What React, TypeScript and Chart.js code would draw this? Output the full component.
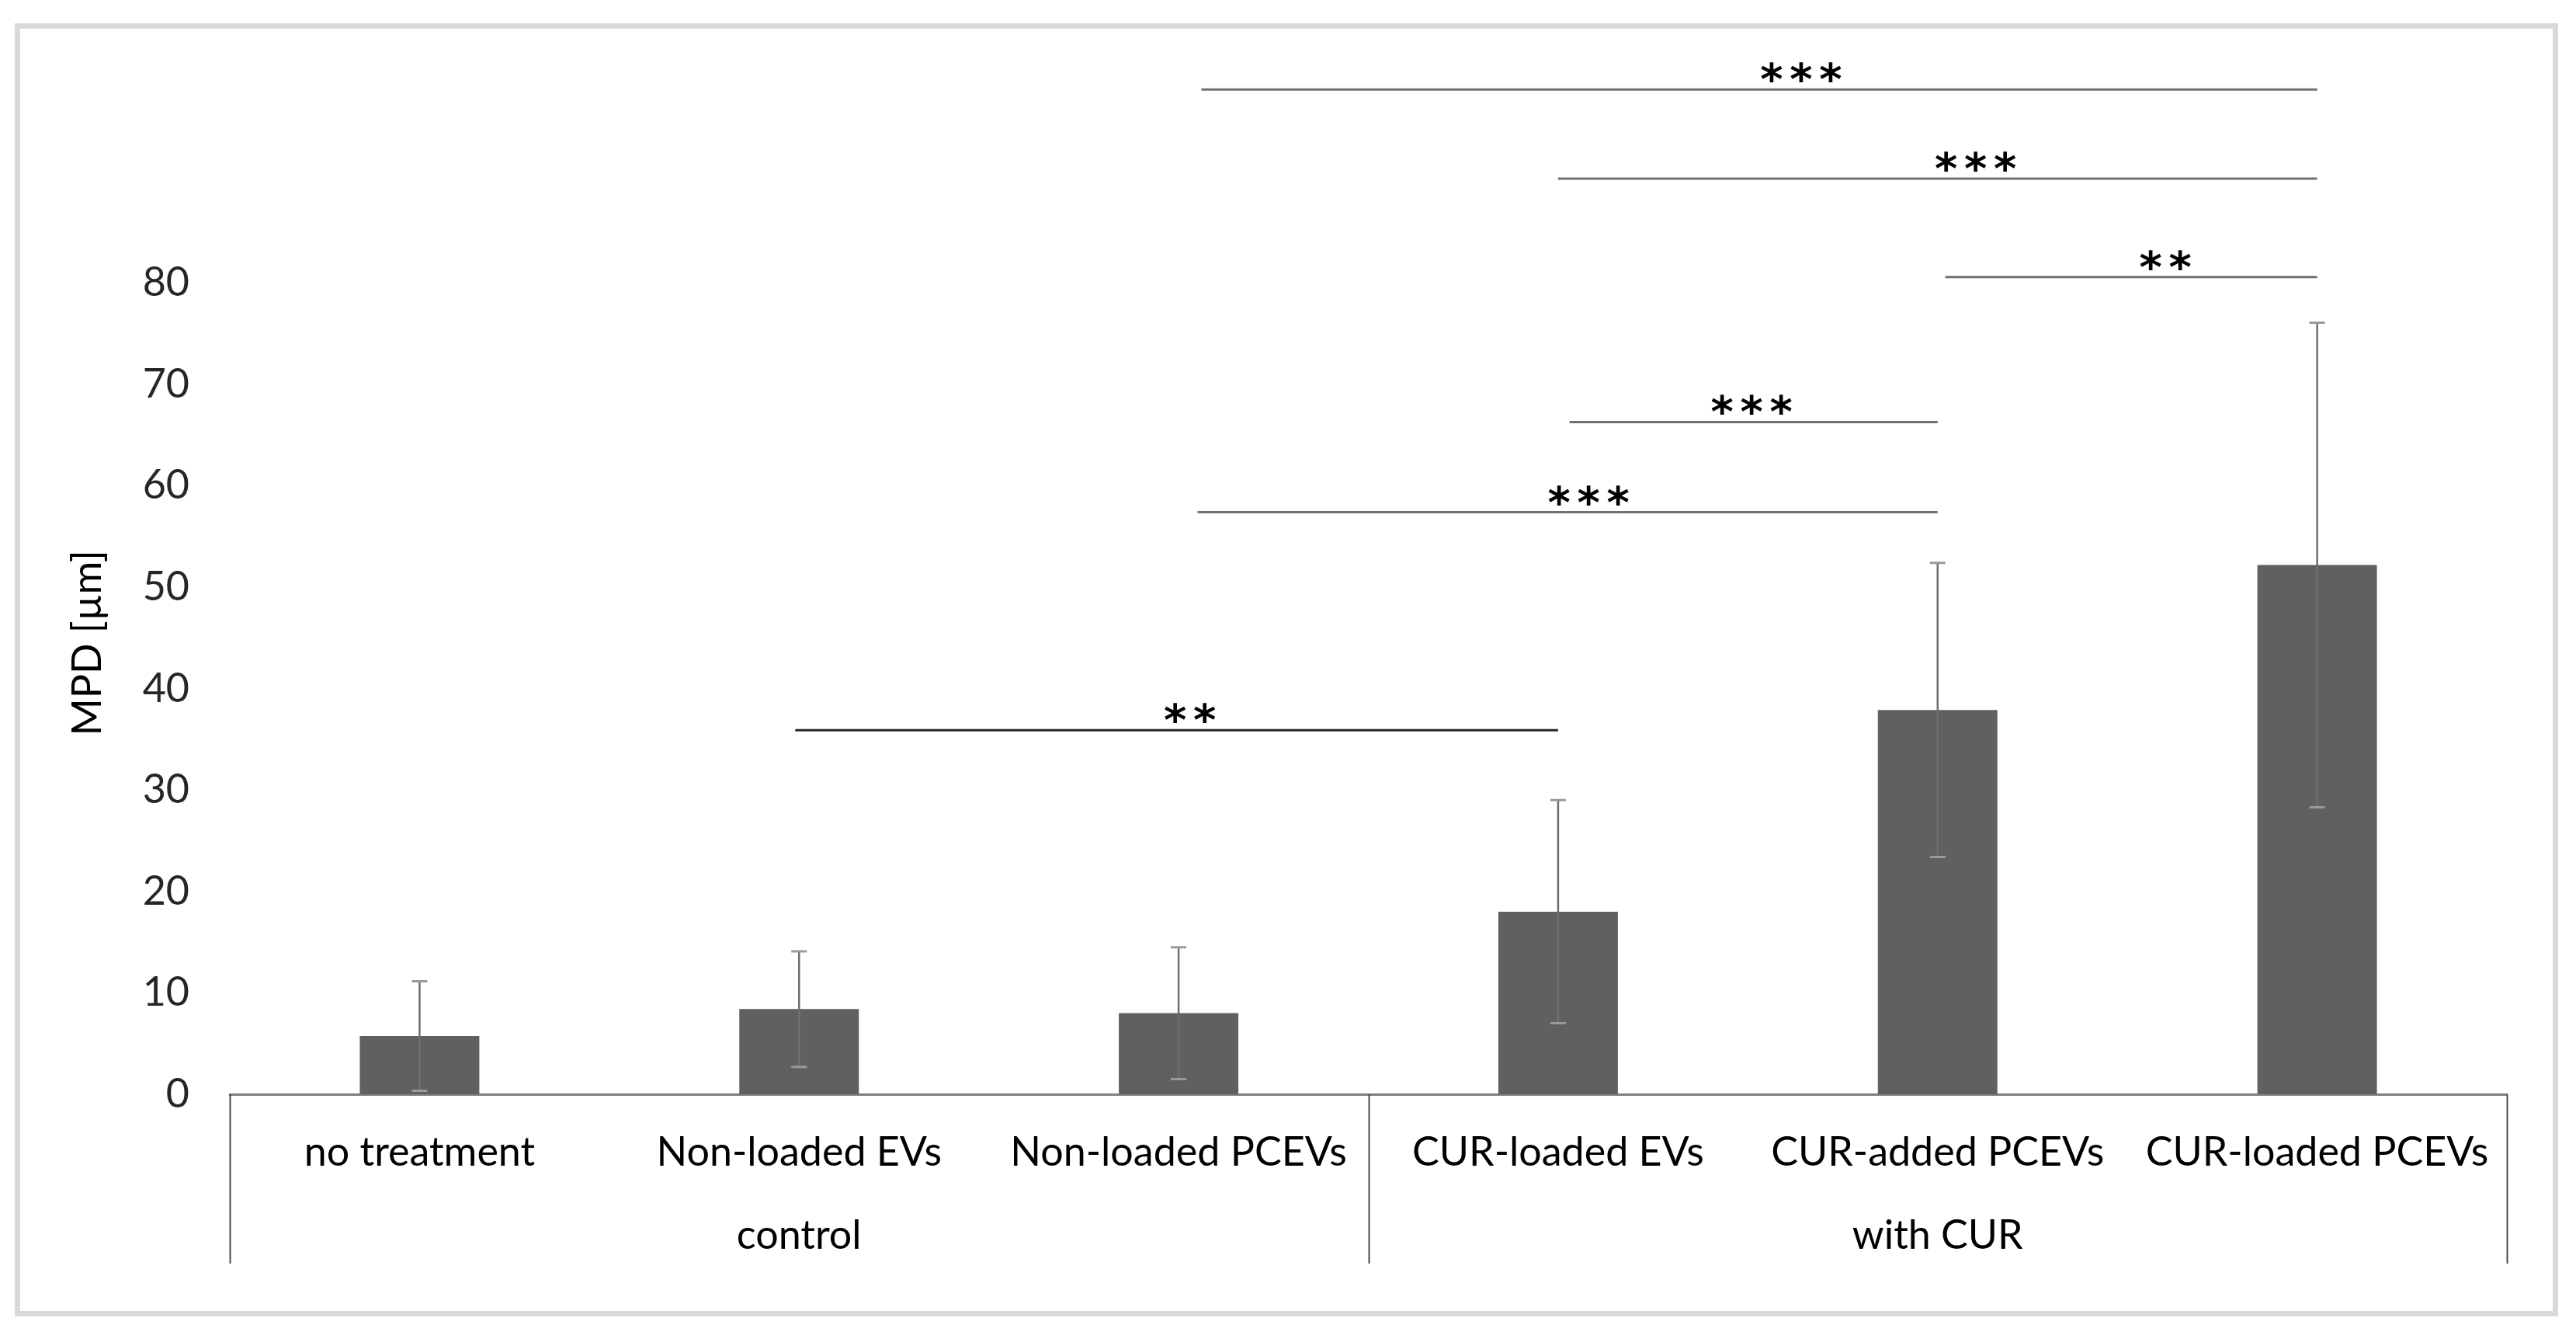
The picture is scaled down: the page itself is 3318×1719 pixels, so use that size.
import React, { useEffect, useRef } from 'react';
import { Chart, registerables } from 'chart.js';

Chart.register(...registerables);

// ---------- data ----------
const categories = ['no treatment', 'Non-loaded EVs', 'Non-loaded PCEVs', 'CUR-loaded EVs', 'CUR-added PCEVs', 'CUR-loaded PCEVs'];
const groups = ['control', 'with CUR'];
const groupSizes = [3, 3];
const means = [5.75, 8.4, 8.0, 18.0, 37.9, 52.2];
const sds = [5.4, 5.7, 6.5, 11.0, 14.5, 23.9];
const yTickStep = 10;
const yAxisMax = 89;
const yAxisTitle = 'MPD [µm]';

// significance brackets (category index positions and y values)
const bracketFrom = [2.06, 3.0, 4.02, 3.03, 2.05, 0.99];
const bracketTo = [5.0, 5.0, 5.0, 4.0, 4.0, 3.0];
const bracketY = [99.1, 90.3, 80.6, 66.3, 57.4, 35.9];
const bracketLabelX = [3.64, 4.1, 4.6, 3.51, 3.08, 2.03];
const bracketLabels = ['***', '***', '**', '***', '***', '**'];

// ---------- styles ----------
const W = 3318;
const H = 1719;
const FONT = 'Lato';
const FS = 52;
const BAR = '#606060';
const bracketColors = ['#707070', '#707070', '#707070', '#707070', '#707070', '#262626'];

const framePlugin = {
  id: 'frame',
  beforeDraw(chart: any) {
    const { ctx } = chart;
    ctx.save();
    ctx.fillStyle = '#ffffff';
    ctx.fillRect(0, 0, W, H);
    ctx.strokeStyle = '#d9d9d9';
    ctx.lineWidth = 7;
    ctx.strokeRect(22.5, 33.5, 3269, 1658);
    ctx.restore();
  },
};

const errorPlugin = {
  id: 'errbars',
  afterDatasetsDraw(chart: any) {
    const { ctx } = chart;
    const y = chart.scales.y;
    const meta = chart.getDatasetMeta(0);
    ctx.save();
    meta.data.forEach((bar: any, i: number) => {
      const top = y.getPixelForValue(means[i] + sds[i]);
      const bot = y.getPixelForValue(means[i] - sds[i]);
      ctx.strokeStyle = '#6e6e6e';
      ctx.lineWidth = 2.5;
      ctx.beginPath();
      ctx.moveTo(bar.x, top);
      ctx.lineTo(bar.x, bot);
      ctx.stroke();
      ctx.strokeStyle = '#9a9a9a';
      ctx.lineWidth = 3;
      ctx.beginPath();
      ctx.moveTo(bar.x - 10, top);
      ctx.lineTo(bar.x + 10, top);
      ctx.moveTo(bar.x - 10, bot);
      ctx.lineTo(bar.x + 10, bot);
      ctx.stroke();
    });
    ctx.restore();
  },
};

const separatorPlugin = {
  id: 'separators',
  afterDraw(chart: any) {
    const { ctx, chartArea } = chart;
    const x = chart.scales.x;
    const x2 = chart.scales.x2;
    const bounds = [-0.5];
    let acc = -0.5;
    groupSizes.forEach((n) => {
      acc += n;
      bounds.push(acc);
    });
    ctx.save();
    ctx.strokeStyle = '#4a4a4a';
    ctx.lineWidth = 2;
    bounds.forEach((b) => {
      const px = Math.round(x.getPixelForValue(b)) + 0.5;
      ctx.beginPath();
      ctx.moveTo(px, chartArea.bottom);
      ctx.lineTo(px, x2.bottom);
      ctx.stroke();
    });
    ctx.restore();
  },
};

const bracketPlugin = {
  id: 'brackets',
  afterDraw(chart: any) {
    const { ctx } = chart;
    const x = chart.scales.x;
    const y = chart.scales.y;
    ctx.save();
    bracketY.forEach((v, i) => {
      const py = y.getPixelForValue(v);
      ctx.strokeStyle = bracketColors[i];
      ctx.lineWidth = 3;
      ctx.beginPath();
      ctx.moveTo(x.getPixelForValue(bracketFrom[i]), py);
      ctx.lineTo(x.getPixelForValue(bracketTo[i]), py);
      ctx.stroke();
      ctx.fillStyle = '#000000';
      ctx.font = 'bold 56px "DejaVu Sans"';
      ctx.textAlign = 'center';
      ctx.textBaseline = 'alphabetic';
      const m = ctx.measureText('*');
      const baseline = py - 9 - m.actualBoundingBoxDescent;
      const cx = x.getPixelForValue(bracketLabelX[i]);
      const n = bracketLabels[i].length;
      const pitch = 38;
      for (let k = 0; k < n; k++) {
        ctx.fillText(bracketLabels[i][k], cx + (k - (n - 1) / 2) * pitch, baseline);
      }
    });
    ctx.restore();
  },
};

export default function App() {
  const ref = useRef<HTMLCanvasElement>(null);
  useEffect(() => {
    const canvas = ref.current!;
    const font = { family: FONT, size: FS };
    const chart = new Chart(canvas, {
      type: 'bar',
      data: {
        labels: categories,
        datasets: [
          {
            data: means,
            backgroundColor: BAR,
            borderWidth: 0,
            barPercentage: 0.315,
            categoryPercentage: 1,
          },
        ],
      },
      options: {
        responsive: false,
        animation: false,
        devicePixelRatio: 1,
        layout: { padding: { left: 0, right: W - 3229, top: 247, bottom: 92 } },
        plugins: { legend: { display: false }, tooltip: { enabled: false } },
        scales: {
          x: {
            type: 'category',
            position: 'bottom',
            weight: 0,
            grid: { display: false, drawTicks: false },
            border: { display: true, color: '#7f7f7f', width: 3 },
            ticks: { color: '#000000', font, padding: 44, autoSkip: false, maxRotation: 0, minRotation: 0 },
            afterFit: (s: any) => {
              s.height = 121;
            },
          },
          x2: {
            type: 'category',
            labels: groups,
            offset: true,
            position: 'bottom',
            weight: 1,
            grid: { display: false, drawTicks: false },
            border: { display: false },
            ticks: { color: '#000000', font, padding: 30, autoSkip: false, maxRotation: 0, minRotation: 0 },
            afterFit: (s: any) => {
              s.height = 97;
            },
          },
          y: {
            type: 'linear',
            position: 'left',
            min: 0,
            max: yAxisMax,
            grid: { display: false, drawTicks: false },
            border: { display: false },
            ticks: { stepSize: yTickStep, includeBounds: false, padding: 52, color: '#262626', font },
            title: { display: true, text: yAxisTitle, color: '#000000', font, padding: { top: 82, bottom: 0 } },
            afterFit: (s: any) => {
              s.width = 296;
            },
          },
        },
      } as any,
      plugins: [framePlugin, errorPlugin, separatorPlugin, bracketPlugin],
    });
    return () => chart.destroy();
  }, []);
  return (
    <div style={{ position: 'absolute', left: 0, top: 0, width: W, height: H }}>
      <canvas ref={ref} width={W} height={H} style={{ display: 'block', width: W, height: H }} />
    </div>
  );
}
